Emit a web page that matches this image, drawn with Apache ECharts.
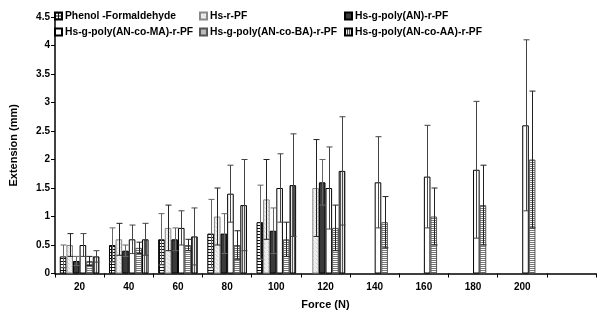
<!DOCTYPE html>
<html><head><meta charset="utf-8">
<script src="https://cdn.jsdelivr.net/npm/echarts@6/dist/echarts.min.js"></script>
<style>html,body{margin:0;padding:0;background:#fff}#c{width:600px;height:319px}</style>
</head><body><div id="c"></div>
<script>
// ---- data ----
const categories = ['20','40','60','80','100','120','140','160','180','200',''];
const seriesNames = ['Phenol -Formaldehyde','Hs-r-PF','Hs-g-poly(AN)-r-PF','Hs-g-poly(AN-co-MA)-r-PF','Hs-g-poly(AN-co-BA)-r-PF','Hs-g-poly(AN-co-AA)-r-PF'];
const pfMean  = [0.3, 0.5, 0.6, 0.7, 0.9, null, null, null, null, null, null];
const pfErr   = [0.2, 0.3, 0.45, 0.6, 0.65, null, null, null, null, null, null];
const hsMean  = [0.5, 0.6, 0.8, 1.0, 1.3, 1.5, null, null, null, null, null];
const hsErr   = [0.2, 0.28, 0.4, 0.5, 0.7, 0.85, null, null, null, null, null];
const anMean  = [0.22, 0.4, 0.6, 0.7, 0.75, 1.6, null, null, null, null, null];
const anErr   = [0.08, 0.1, 0.2, 0.35, 0.4, 0.4, null, null, null, null, null];
const maMean  = [0.5, 0.6, 0.8, 1.4, 1.5, 1.5, 1.6, 1.7, 1.82, 2.6, null];
const maErr   = [0.2, 0.25, 0.3, 0.5, 0.6, 0.72, 0.8, 0.9, 1.2, 1.5, null];
const baMean  = [0.22, 0.45, 0.5, 0.5, 0.6, 0.8, 0.9, 1.0, 1.2, 2.0, null];
const baErr   = [0.08, 0.1, 0.1, 0.25, 0.3, 0.4, 0.45, 0.5, 0.7, 1.2, null];
const aaMean  = [0.3, 0.6, 0.65, 1.2, 1.55, 1.8, null, null, null, null, null];
const aaErr   = [0.1, 0.28, 0.5, 0.8, 0.9, 0.95, null, null, null, null, null];
const yMin = 0, yMax = 4.5, yStep = 0.5;

const means = [pfMean, hsMean, anMean, maMean, baMean, aaMean];
const errs  = [pfErr, hsErr, anErr, maErr, baErr, aaErr];

// ---- styles ----
const FONT = 'Arial, "Liberation Sans", sans-serif';
const BAR_W = 6.6;
function pat(w, h, draw) {
  const c = document.createElement('canvas'); c.width = w; c.height = h;
  const g = c.getContext('2d'); draw(g);
  return { image: c, repeat: 'repeat' };
}
const fills = [
  pat(6, 3, g => { g.fillStyle = '#fff'; g.fillRect(0,0,6,3); g.fillStyle = '#111'; g.fillRect(0,0,6,1); g.fillRect(3,0,1,3); }),
  pat(4, 4, g => { g.fillStyle = '#f0f0f0'; g.fillRect(0,0,4,4); g.fillStyle = '#d4d4d4'; g.fillRect(1,0,1,1); g.fillRect(3,2,1,1); g.fillRect(0,3,1,1); }),
  '#3a3a3a',
  '#ffffff',
  pat(2, 2, g => { g.fillStyle = '#fff'; g.fillRect(0,0,2,2); g.fillStyle = '#777'; g.fillRect(0,0,2,1); }),
  pat(2, 2, g => { g.fillStyle = '#e8e8e8'; g.fillRect(0,0,2,2); g.fillStyle = '#555'; g.fillRect(0,0,1,2); })
];
const borders = ['#000', '#888', '#000', '#000', '#555', '#000'];
const errColors = ['#666', '#222', '#666', '#444', '#222', '#444'];

function errRender(si) {
  return function (params, api) {
    const x = api.value(0), m = api.value(1), e = api.value(2);
    const hi = api.coord([x, m + e]), lo = api.coord([x, m - e]);
    const cx = Math.round(hi[0] + (si - 2.5) * BAR_W) + 0.5;
    const st = { stroke: errColors[si], lineWidth: 1 };
    const cap = 3;
    return { type: 'group', children: [
      { type: 'line', shape: { x1: cx, y1: hi[1], x2: cx, y2: lo[1] }, style: st },
      { type: 'line', shape: { x1: cx - cap, y1: hi[1], x2: cx + cap, y2: hi[1] }, style: st },
      { type: 'line', shape: { x1: cx - cap, y1: lo[1], x2: cx + cap, y2: lo[1] }, style: st }
    ]};
  };
}

const series = [];
seriesNames.forEach((n, i) => {
  series.push({
    name: n, type: 'bar', data: means[i], barWidth: BAR_W, barGap: '0%',
    itemStyle: { color: fills[i], borderColor: borders[i], borderWidth: 1 },
    emphasis: { disabled: true }, z: 2
  });
});
seriesNames.forEach((n, i) => {
  const d = [];
  means[i].forEach((m, k) => { if (m != null) d.push([k, m, errs[i][k]]); });
  series.push({ name: 'err' + i, type: 'custom', renderItem: errRender(i), data: d, z: 5, silent: true });
});

function legend(left, names) {
  return {
    orient: 'vertical', left: left, top: 11, padding: 0, itemGap: 6,
    itemWidth: 7, itemHeight: 7, icon: 'rect', data: names, selectedMode: false,
    textStyle: { fontFamily: FONT, fontSize: 10.3, fontWeight: 'bold', color: '#000', padding: [0,0,0,-2] }
  };
}

const chart = echarts.init(document.getElementById('c'), null, { renderer: 'canvas' });
chart.setOption({
  animation: false,
  backgroundColor: '#fff',
  grid: { left: 50, right: 4, top: 17, bottom: 45.5, containLabel: false },
  legend: [
    legend(54, [seriesNames[0], seriesNames[3]]),
    legend(199, [seriesNames[1], seriesNames[4]]),
    legend(344, [seriesNames[2], seriesNames[5]])
  ],
  xAxis: {
    type: 'category', data: categories, boundaryGap: true,
    name: 'Force (N)', nameLocation: 'middle', nameGap: 26,
    nameTextStyle: { fontFamily: FONT, fontSize: 11, fontWeight: 'bold', color: '#000' },
    axisLine: { lineStyle: { color: '#000', width: 1.5 } },
    axisTick: { show: true, inside: false, length: 4, alignWithLabel: false, lineStyle: { color: '#000' } },
    axisLabel: { fontFamily: FONT, fontSize: 10, fontWeight: 'bold', color: '#000', margin: 9, interval: 0 },
    splitLine: { show: false }
  },
  yAxis: {
    type: 'value', min: yMin, max: yMax, interval: yStep,
    name: 'Extension (mm)', nameLocation: 'middle', nameGap: 36, nameRotate: 90,
    nameTextStyle: { fontFamily: FONT, fontSize: 11, fontWeight: 'bold', color: '#000' },
    axisLine: { show: true, lineStyle: { color: '#000', width: 1.5 } },
    axisTick: { show: true, inside: false, length: 4, lineStyle: { color: '#000' } },
    axisLabel: { fontFamily: FONT, fontSize: 10, fontWeight: 'bold', color: '#000', margin: 5 },
    splitLine: { show: false }
  },
  series: series
});
</script>
</body></html>
